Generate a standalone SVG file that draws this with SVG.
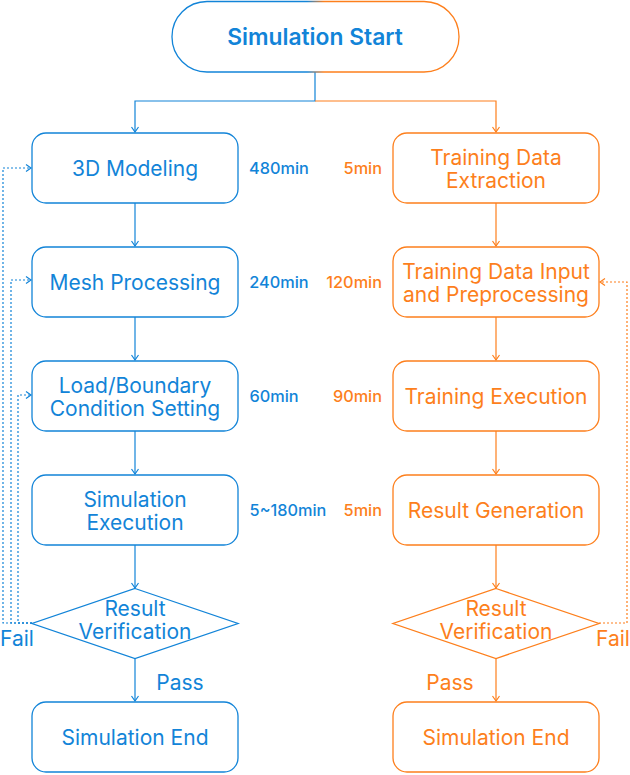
<svg xmlns="http://www.w3.org/2000/svg" width="630" height="775" viewBox="0 0 630 775">
<defs>
<linearGradient id="startGrad" x1="172" y1="0" x2="459" y2="0" gradientUnits="userSpaceOnUse">
<stop offset="0.47" stop-color="#1284d8"/>
<stop offset="0.53" stop-color="#fd7f1c"/>
</linearGradient>
<marker id="ab" markerUnits="userSpaceOnUse" markerWidth="8" markerHeight="10" refX="6" refY="5" orient="auto">
<path d="M1,1.5 L6,5 L1,8.5" fill="none" stroke="#1284d8" stroke-width="1.2"/>
</marker>
<marker id="ao" markerUnits="userSpaceOnUse" markerWidth="8" markerHeight="10" refX="6" refY="5" orient="auto">
<path d="M1,1.5 L6,5 L1,8.5" fill="none" stroke="#fd7f1c" stroke-width="1.2"/>
</marker>
</defs>
<style>
text{font-family:Inter,"Noto Sans",sans-serif;text-anchor:middle;dominant-baseline:central}
.b{fill:#1284d8}
.o{fill:#fd7f1c}
.nb{fill:#fff;stroke:#1284d8;stroke-width:1.3}
.no{fill:#fff;stroke:#fd7f1c;stroke-width:1.3}
.t{font-size:21px}
.tm{font-size:16.3px;font-weight:500}
.lb{fill:none;stroke:#1284d8;stroke-width:1.2}
.lo{fill:none;stroke:#fd7f1c;stroke-width:1.2}
.db{fill:none;stroke:#1284d8;stroke-width:1.2;stroke-dasharray:2 2}
.do{fill:none;stroke:#fd7f1c;stroke-width:1.2;stroke-dasharray:2 2}
</style>
<g id="connectors">
<path class="lb" d="M315,72 V101 H135 V132" marker-end="url(#ab)"/>
<path class="lo" d="M315,101 H496 V132" marker-end="url(#ao)"/>
<path class="lb" d="M135,203 V246" marker-end="url(#ab)"/>
<path class="lb" d="M135,317 V360" marker-end="url(#ab)"/>
<path class="lb" d="M135,431 V474" marker-end="url(#ab)"/>
<path class="lb" d="M135,545 V588" marker-end="url(#ab)"/>
<path class="lb" d="M135,658 V701" marker-end="url(#ab)"/>
<path class="lo" d="M496,203 V246" marker-end="url(#ao)"/>
<path class="lo" d="M496,317 V360" marker-end="url(#ao)"/>
<path class="lo" d="M496,431 V474" marker-end="url(#ao)"/>
<path class="lo" d="M496,545 V588" marker-end="url(#ao)"/>
<path class="lo" d="M496,658 V701" marker-end="url(#ao)"/>
<path class="db" d="M32,623 H3 V168 H31" marker-end="url(#ab)"/>
<path class="db" d="M32,623 H11 V280 H31" marker-end="url(#ab)"/>
<path class="db" d="M32,623 H18 V395 H31" marker-end="url(#ab)"/>
<path class="do" d="M599,623 H627 V282 H600" marker-end="url(#ao)"/>
<text class="b t" x="17" y="638">Fail</text>
<text class="o t" x="613" y="638">Fail</text>
<text class="b t" x="180" y="682">Pass</text>
<text class="o t" x="450" y="682">Pass</text>
</g>
<g id="start">
<rect x="172" y="1.5" width="287" height="70.5" rx="35" fill="#fff" stroke="url(#startGrad)" stroke-width="1.3"/>
<text class="b" x="315" y="36" font-size="22.8px" font-weight="600">Simulation Start</text>
</g>
<g id="modeling">
<rect class="nb" x="32" y="133" width="206" height="70" rx="14"/>
<text class="b t" x="135" y="168">3D Modeling</text>
<text class="b tm" x="279" y="168">480min</text>
</g>
<g id="mesh">
<rect class="nb" x="32" y="247" width="206" height="70" rx="14"/>
<text class="b t" x="135" y="282">Mesh Processing</text>
<text class="b tm" x="279" y="282">240min</text>
</g>
<g id="load">
<rect class="nb" x="32" y="361" width="206" height="70" rx="14"/>
<text class="b t" x="135" y="385">Load/Boundary</text>
<text class="b t" x="135" y="408">Condition Setting</text>
<text class="b tm" x="274" y="396">60min</text>
</g>
<g id="simexec">
<rect class="nb" x="32" y="475" width="206" height="70" rx="14"/>
<text class="b t" x="135" y="499">Simulation</text>
<text class="b t" x="135" y="522">Execution</text>
<text class="b tm" x="288" y="510">5~180min</text>
</g>
<g id="verify-left">
<polygon class="nb" points="135,588.5 238,623.5 135,658.5 32,623.5"/>
<text class="b t" x="135" y="608">Result</text>
<text class="b t" x="135" y="631">Verification</text>
</g>
<g id="end-left">
<rect class="nb" x="32" y="702" width="206" height="70" rx="14"/>
<text class="b t" x="135" y="737">Simulation End</text>
</g>
<g id="extract">
<rect class="no" x="393" y="133" width="206" height="70" rx="14"/>
<text class="o t" x="496" y="157">Training Data</text>
<text class="o t" x="496" y="180">Extraction</text>
<text class="o tm" x="382" y="168" style="text-anchor:end">5min</text>
</g>
<g id="preprocess">
<rect class="no" x="393" y="247" width="206" height="70" rx="14"/>
<text class="o t" x="496" y="271">Training Data Input</text>
<text class="o t" x="496" y="294">and Preprocessing</text>
<text class="o tm" x="382" y="282" style="text-anchor:end">120min</text>
</g>
<g id="train">
<rect class="no" x="393" y="361" width="206" height="70" rx="14"/>
<text class="o t" x="496" y="396">Training Execution</text>
<text class="o tm" x="382" y="396" style="text-anchor:end">90min</text>
</g>
<g id="resultgen">
<rect class="no" x="393" y="475" width="206" height="70" rx="14"/>
<text class="o t" x="496" y="510">Result Generation</text>
<text class="o tm" x="382" y="510" style="text-anchor:end">5min</text>
</g>
<g id="verify-right">
<polygon class="no" points="496,588.5 599,623.5 496,658.5 393,623.5"/>
<text class="o t" x="496" y="608">Result</text>
<text class="o t" x="496" y="631">Verification</text>
</g>
<g id="end-right">
<rect class="no" x="393" y="702" width="206" height="70" rx="14"/>
<text class="o t" x="496" y="737">Simulation End</text>
</g>
</svg>
